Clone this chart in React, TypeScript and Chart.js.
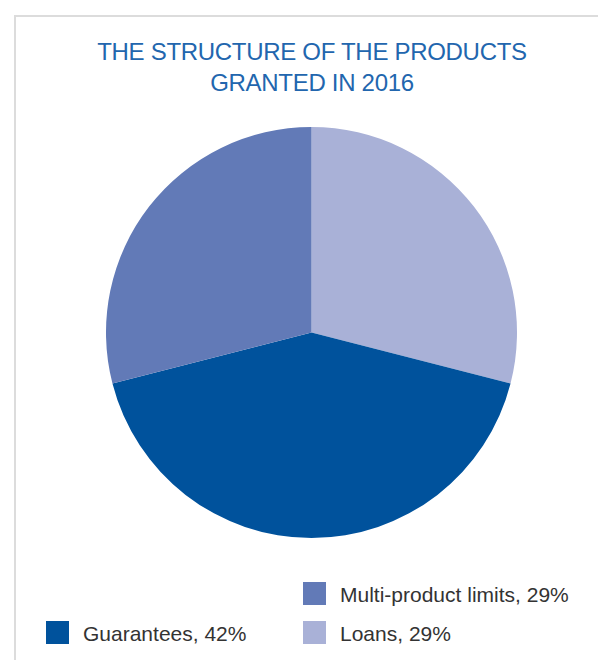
import React, { useEffect, useRef } from "react";
import { Chart, registerables } from "chart.js";

Chart.register(...registerables);

const titleLines = ["THE STRUCTURE OF THE PRODUCTS", "GRANTED IN 2016"];
const categories = ["Loans", "Guarantees", "Multi-product limits"];
const shares = [29, 42, 29];
const colors = ["#A9B1D7", "#00529C", "#627AB7"];

const FONT = "'Liberation Sans', Arial, Helvetica, sans-serif";

export default function App() {
  const canvasRef = useRef<HTMLCanvasElement | null>(null);

  useEffect(() => {
    const ctx = canvasRef.current;
    if (!ctx) return;
    const chart = new Chart(ctx, {
      type: "pie",
      data: {
        labels: categories,
        datasets: [
          {
            data: shares,
            backgroundColor: colors,
            borderWidth: 0,
            hoverOffset: 0,
          },
        ],
      },
      options: {
        animation: false,
        responsive: false,
        maintainAspectRatio: false,
        layout: { padding: 0 },
        plugins: {
          legend: { display: false },
          title: { display: false },
          tooltip: { enabled: false },
        },
      },
    });
    return () => chart.destroy();
  }, []);

  const legendItem = (i: number, left: number, top: number) => (
    <div key={i} style={{ position: "absolute", left, top, height: 24 }}>
      <div
        style={{
          position: "absolute",
          left: 0,
          top: 0,
          width: 23,
          height: 23,
          background: colors[i],
        }}
      />
      <div
        style={{
          position: "absolute",
          left: 37,
          top: 2,
          whiteSpace: "nowrap",
          fontFamily: FONT,
          fontSize: 21,
          lineHeight: "21px",
          color: "#333333",
        }}
      >
        {`${categories[i]}, ${shares[i]}%`}
      </div>
    </div>
  );

  return (
    <div
      style={{
        position: "absolute",
        left: 0,
        top: 0,
        width: 598,
        height: 660,
        background: "#ffffff",
        overflow: "hidden",
      }}
    >
      <div
        style={{
          position: "absolute",
          left: 14,
          top: 15,
          width: 600,
          height: 700,
          borderTop: "2px solid #dcdcdc",
          borderLeft: "2px solid #dcdcdc",
          boxSizing: "border-box",
        }}
      />
      {titleLines.map((t, i) => (
        <div
          key={t}
          style={{
            position: "absolute",
            left: 12,
            width: 600,
            top: 40 + i * 31,
            textAlign: "center",
            fontFamily: FONT,
            fontSize: 24,
            lineHeight: "24px",
            color: "#2266AE",
            whiteSpace: "nowrap",
            letterSpacing: "-0.3px",
          }}
        >
          {t}
        </div>
      ))}
      <canvas
        ref={canvasRef}
        width={411}
        height={411}
        style={{ position: "absolute", left: 106, top: 127, width: 411, height: 411 }}
      />
      {legendItem(2, 303, 582)}
      {legendItem(1, 46, 621)}
      {legendItem(0, 303, 621)}
    </div>
  );
}
